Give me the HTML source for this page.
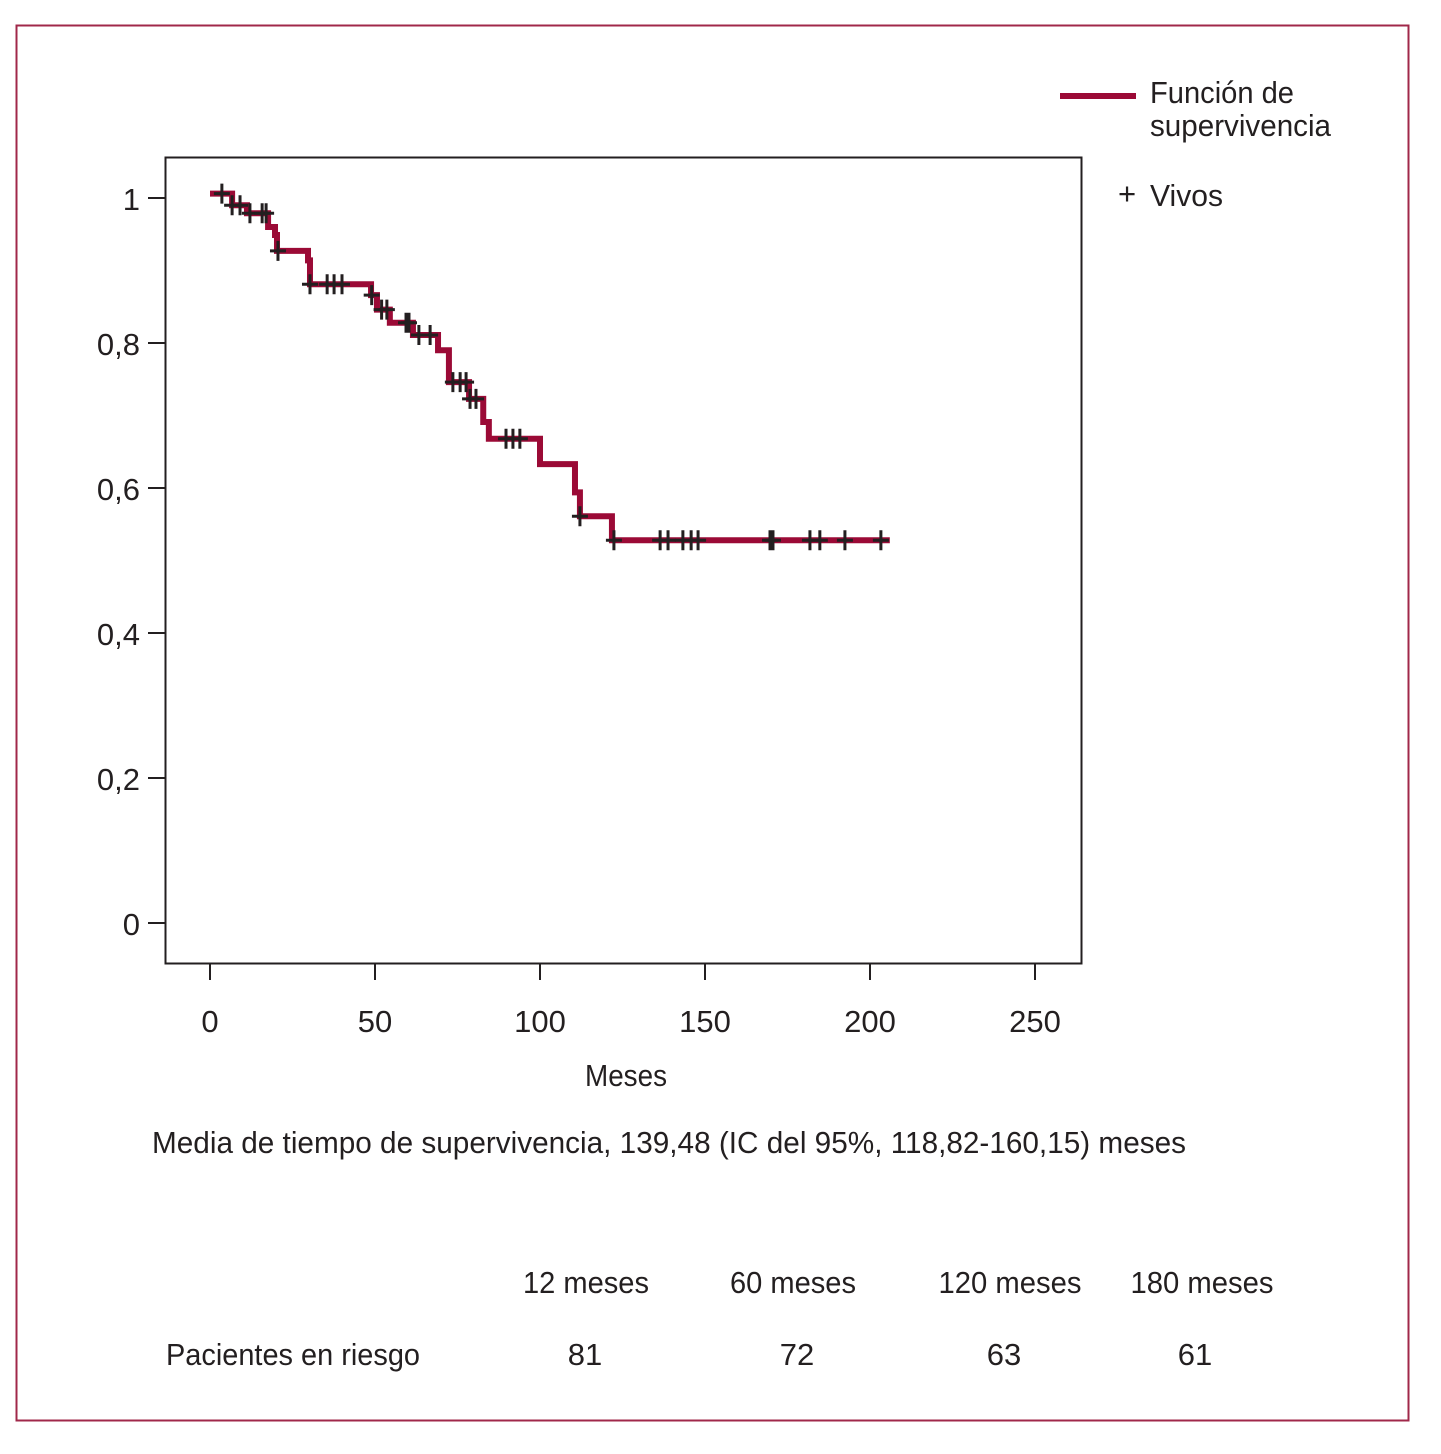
<!DOCTYPE html>
<html><head><meta charset="utf-8"><style>
html,body{margin:0;padding:0;background:#fff;}
svg{display:block;}
text{font-family:"Liberation Sans Narrow","Liberation Sans",sans-serif;fill:#231f20;font-size:31px;}
</style></head><body>
<svg id="chart" width="1441" height="1454" viewBox="0 0 1441 1454">
<rect x="16.5" y="25.5" width="1392" height="1395" fill="none" stroke="#a0284a" stroke-width="2"/>
<rect x="165.5" y="157.5" width="916" height="806" fill="none" stroke="#231f20" stroke-width="2"/>
<g id="axes"></g>
<g id="curve"></g>
<g id="censors"></g>
<text x="626" y="1086" text-anchor="middle" textLength="82" lengthAdjust="spacingAndGlyphs">Meses</text>
<text x="152" y="1153" textLength="1034" lengthAdjust="spacingAndGlyphs">Media de tiempo de supervivencia, 139,48 (IC del 95%, 118,82-160,15) meses</text>
<line x1="1060" y1="96" x2="1136" y2="96" stroke="#9b0a36" stroke-width="6"/>
<text x="1150" y="103" textLength="144" lengthAdjust="spacingAndGlyphs">Función de</text>
<text x="1150" y="136" textLength="181" lengthAdjust="spacingAndGlyphs">supervivencia</text>
<text x="1118" y="204">+</text>
<text x="1150" y="206" textLength="73" lengthAdjust="spacingAndGlyphs">Vivos</text>
<g id="table">
<text x="586" y="1293" text-anchor="middle" textLength="126" lengthAdjust="spacingAndGlyphs">12 meses</text>
<text x="793" y="1293" text-anchor="middle" textLength="126" lengthAdjust="spacingAndGlyphs">60 meses</text>
<text x="1010" y="1293" text-anchor="middle" textLength="143" lengthAdjust="spacingAndGlyphs">120 meses</text>
<text x="1202" y="1293" text-anchor="middle" textLength="143" lengthAdjust="spacingAndGlyphs">180 meses</text>
<text x="166" y="1365" textLength="254" lengthAdjust="spacingAndGlyphs">Pacientes en riesgo</text>
<text x="585" y="1365" text-anchor="middle">81</text>
<text x="797" y="1365" text-anchor="middle">72</text>
<text x="1004" y="1365" text-anchor="middle">63</text>
<text x="1195" y="1365" text-anchor="middle">61</text>
</g>
</svg>
<script>
const stepTimes = [0, 6.7, 11.2, 17.6, 19.7, 20.3, 29.7, 30.3, 48.8, 50.6, 54.5, 61.5, 69.1, 72.4, 78.5, 82.8, 84.5, 100, 110.6, 112.1, 121.8];
const stepSurv  = [1.006, 0.990, 0.979, 0.960, 0.949, 0.927, 0.914, 0.881, 0.866, 0.846, 0.828, 0.811, 0.790, 0.746, 0.723, 0.691, 0.668, 0.633, 0.594, 0.561, 0.528];
const endTime = 206;
const censorTimes = [3.6, 6.7, 9.1, 12.1, 15.8, 17, 20.6, 30.3, 35.5, 37.6, 40, 49, 52, 53.6, 59.4, 60.3, 63.3, 66.7, 73.6, 75.8, 77.6, 78.8, 80.6, 89.7, 91.8, 93.9, 112.1, 122.4, 136.4, 138.8, 143.3, 145.8, 147.9, 169.7, 170.6, 181.8, 184.8, 192.4, 203.3];
const xTicks = [0, 50, 100, 150, 200, 250];
const yTicks = [0, 0.2, 0.4, 0.6, 0.8, 1];
const yTickLabels = ["0", "0,2", "0,4", "0,6", "0,8", "1"];

const NS = "http://www.w3.org/2000/svg";
const xs = t => 210 + t * 3.3;
const ys = s => 923 - s * 725;
function mk(tag, attrs, parent) {
  const e = document.createElementNS(NS, tag);
  for (const k in attrs) e.setAttribute(k, attrs[k]);
  parent.appendChild(e);
  return e;
}
const axes = document.getElementById('axes');
xTicks.forEach((v, i) => {
  const l = mk('line', {x1: xs(v), x2: xs(v), y1: 963, y2: 980, stroke: '#231f20', 'stroke-width': 2}, axes);
  
  
  const t = mk('text', {x: xs(v), y: 1032, 'text-anchor': 'middle'}, axes);
  t.textContent = String(v);
  
  
});
yTicks.forEach((v, i) => {
  const l = mk('line', {x1: 148, x2: 165, y1: ys(v), y2: ys(v), stroke: '#231f20', 'stroke-width': 2}, axes);
  
  
  const t = mk('text', {x: 140, y: ys(v) + 12, 'text-anchor': 'end'}, axes);
  t.textContent = yTickLabels[i];
  
  
});
let d = '';
stepTimes.forEach((t, i) => {
  const x = xs(t), y = ys(stepSurv[i]);
  if (i === 0) d += 'M' + x + ' ' + y; else d += ' V' + y;
  const nx = i < stepTimes.length - 1 ? xs(stepTimes[i + 1]) : xs(endTime);
  d += ' H' + nx;
});
const path = mk('path', {d: d, fill: 'none', stroke: '#9b0a36', 'stroke-width': 6}, document.getElementById('curve'));


function survAt(t) {
  let s = stepSurv[0];
  for (let i = 0; i < stepTimes.length; i++) if (stepTimes[i] <= t) s = stepSurv[i];
  return s;
}
const cg = document.getElementById('censors');
censorTimes.forEach(t => {
  const x = xs(t), y = ys(survAt(t));
  const p = mk('path', {d: 'M' + (x - 8) + ' ' + y + ' H' + (x + 8) + ' M' + x + ' ' + (y - 10) + ' V' + (y + 10), stroke: '#231f20', 'stroke-width': 3, fill: 'none'}, cg);
  
  
});
</script>
</body></html>
